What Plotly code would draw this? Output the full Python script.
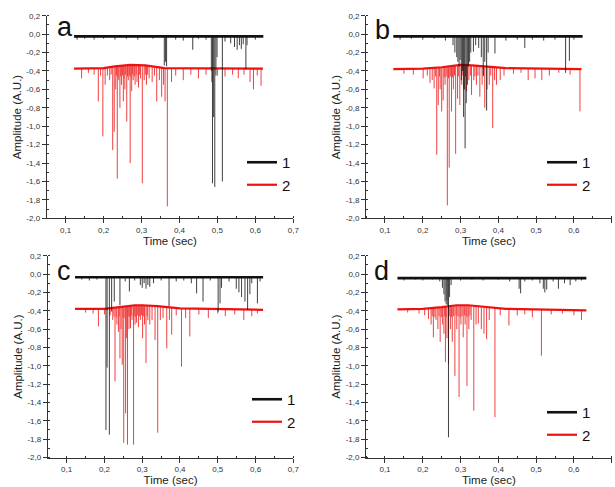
import numpy as np
import plotly.graph_objects as go

# ---------------- data ----------------
X_TICKS = [0.1, 0.2, 0.3, 0.4, 0.5, 0.6, 0.7]
X_TICK_LABELS = ["0,1", "0,2", "0,3", "0,4", "0,5", "0,6", "0,7"]
Y_TICKS = [0.2, 0.0, -0.2, -0.4, -0.6, -0.8, -1.0, -1.2, -1.4, -1.6, -1.8, -2.0]
Y_TICK_LABELS = ["0,2", "0,0", "-0,2", "-0,4", "-0,6", "-0,8", "-1,0",
                 "-1,2", "-1,4", "-1,6", "-1,8", "-2,0"]
PANEL_LETTERS = ["a", "b", "c", "d"]
SERIES_NAMES = ["1", "2"]

# ---- panel a ----
A1_BASE_T = [0.122, 0.621]
A1_BASE_Y = [-0.025, -0.025]
A1_SPIKE_T = [0.13, 0.15, 0.175, 0.20, 0.23, 0.26, 0.29, 0.33, 0.360, 0.363, 0.366,
              0.39, 0.41, 0.435, 0.45, 0.47, 0.484, 0.487, 0.490, 0.493, 0.496, 0.499,
              0.513, 0.52, 0.535, 0.545, 0.552, 0.558, 0.563, 0.568, 0.575, 0.578, 0.60]
A1_SPIKE_Y = [-0.06, -0.05, -0.06, -0.05, -0.06, -0.05, -0.06, -0.05, -0.34, -0.30, -0.35,
              -0.06, -0.07, -0.17, -0.05, -0.06, -0.40, -1.62, -0.90, -1.66, -0.45, -0.25,
              -1.60, -0.08, -0.10, -0.14, -0.17, -0.12, -0.16, -0.11, -0.38, -0.12, -0.06]
A2_BASE_T = [0.122, 0.20, 0.23, 0.27, 0.31, 0.36, 0.62]
A2_BASE_Y = [-0.375, -0.37, -0.35, -0.335, -0.34, -0.37, -0.375]
A2_SPIKE_T = [0.142, 0.16, 0.175, 0.186, 0.192, 0.198, 0.204, 0.21, 0.216, 0.220, 0.224,
              0.228, 0.232, 0.234, 0.236, 0.238, 0.240, 0.243, 0.245, 0.247, 0.250, 0.252,
              0.254, 0.256, 0.258, 0.261, 0.263, 0.265, 0.268, 0.270, 0.272, 0.274, 0.276,
              0.278, 0.281, 0.283, 0.286, 0.288, 0.292, 0.295, 0.297, 0.302, 0.307, 0.310,
              0.313, 0.316, 0.320, 0.328, 0.334, 0.340, 0.347, 0.353, 0.358, 0.362, 0.368,
              0.379, 0.39, 0.41, 0.43, 0.45, 0.47, 0.485, 0.50, 0.52, 0.54, 0.555, 0.57,
              0.586, 0.595, 0.605, 0.615]
A2_SPIKE_Y = [-0.48, -0.42, -0.44, -0.73, -0.45, -1.11, -0.55, -0.45, -0.50, -0.44, -1.26,
              -1.06, -0.60, -0.45, -1.57, -0.47, -0.50, -0.80, -0.46, -0.55, -0.45, -0.73,
              -0.48, -0.60, -0.44, -0.95, -0.46, -0.50, -0.45, -1.40, -0.47, -0.62, -0.44,
              -0.50, -0.46, -0.55, -0.44, -0.52, -0.58, -0.44, -0.48, -1.62, -0.50, -0.44,
              -0.55, -0.44, -0.48, -0.52, -0.45, -0.73, -0.50, -0.68, -0.55, -0.73, -1.87,
              -0.52, -0.45, -0.50, -0.44, -0.48, -0.44, -0.52, -0.45, -0.46, -0.44, -0.48,
              -0.44, -0.52, -0.60, -0.45, -0.56]

# ---- panel b ----
B1_BASE_T = [0.122, 0.623]
B1_BASE_Y = [-0.025, -0.025]
B1_SPIKE_T = [0.14, 0.17, 0.20, 0.23, 0.26, 0.28, 0.285, 0.29, 0.293, 0.296, 0.299, 0.302,
              0.305, 0.308, 0.310, 0.312, 0.315, 0.318, 0.321, 0.324, 0.327, 0.334, 0.34,
              0.348, 0.355, 0.36, 0.364, 0.369, 0.373, 0.391, 0.42, 0.45, 0.47, 0.49, 0.52,
              0.55, 0.578, 0.588, 0.60]
B1_SPIKE_Y = [-0.06, -0.05, -0.06, -0.05, -0.07, -0.12, -0.20, -0.25, -0.30, -0.35, -0.28,
              -0.50, -0.40, -0.90, -0.60, -1.24, -0.75, -0.55, -0.35, -0.30, -0.20, -0.19,
              -0.12, -0.15, -0.25, -0.45, -0.30, -0.83, -0.20, -0.21, -0.07, -0.06, -0.15,
              -0.06, -0.07, -0.06, -0.42, -0.29, -0.06]
B2_BASE_T = [0.122, 0.20, 0.25, 0.30, 0.33, 0.37, 0.42, 0.62]
B2_BASE_Y = [-0.38, -0.375, -0.36, -0.335, -0.34, -0.35, -0.37, -0.38]
B2_SPIKE_T = [0.15, 0.175, 0.201, 0.212, 0.219, 0.225, 0.230, 0.234, 0.237, 0.241, 0.244,
              0.246, 0.250, 0.254, 0.257, 0.259, 0.262, 0.265, 0.268, 0.270, 0.273, 0.276,
              0.279, 0.281, 0.284, 0.287, 0.292, 0.295, 0.298, 0.303, 0.306, 0.309, 0.313,
              0.316, 0.322, 0.326, 0.329, 0.335, 0.338, 0.342, 0.346, 0.351, 0.357, 0.361,
              0.364, 0.370, 0.376, 0.380, 0.385, 0.390, 0.395, 0.405, 0.415, 0.44, 0.46,
              0.479, 0.497, 0.515, 0.535, 0.56, 0.59, 0.616]
B2_SPIKE_Y = [-0.43, -0.44, -0.48, -0.45, -0.53, -0.50, -0.59, -0.46, -1.31, -0.77, -0.46,
              -0.60, -0.84, -0.72, -0.47, -0.55, -0.46, -1.86, -0.48, -1.45, -0.46, -0.84,
              -0.47, -0.60, -0.45, -1.30, -0.70, -0.46, -0.77, -0.55, -0.45, -0.60, -0.46,
              -0.62, -0.50, -0.45, -0.66, -0.50, -0.46, -0.55, -0.45, -0.68, -0.55, -0.46,
              -0.80, -0.60, -0.55, -0.45, -1.02, -0.50, -0.55, -0.50, -0.45, -0.43, -0.42,
              -0.50, -0.48, -0.50, -0.45, -0.42, -0.44, -0.84]

# ---- panel c ----
C1_BASE_T = [0.122, 0.62]
C1_BASE_Y = [-0.035, -0.035]
C1_SPIKE_T = [0.14, 0.16, 0.18, 0.204, 0.207, 0.213, 0.219, 0.226, 0.241, 0.255, 0.266,
              0.28, 0.295, 0.30, 0.305, 0.31, 0.315, 0.32, 0.33, 0.35, 0.371, 0.39, 0.41,
              0.43, 0.444, 0.461, 0.48, 0.501, 0.506, 0.51, 0.53, 0.549, 0.556, 0.563,
              0.572, 0.579, 0.585, 0.59, 0.605, 0.612]
C1_SPIKE_Y = [-0.06, -0.07, -0.06, -1.70, -1.02, -1.75, -0.41, -0.30, -0.34, -0.08, -0.19,
              -0.07, -0.12, -0.15, -0.10, -0.16, -0.12, -0.14, -0.10, -0.07, -0.35, -0.08,
              -0.07, -0.10, -0.21, -0.30, -0.07, -0.41, -0.32, -0.15, -0.08, -0.16, -0.20,
              -0.25, -0.30, -0.39, -0.22, -0.10, -0.32, -0.08]
C2_BASE_T = [0.122, 0.20, 0.24, 0.28, 0.30, 0.34, 0.40, 0.62]
C2_BASE_Y = [-0.38, -0.38, -0.36, -0.34, -0.34, -0.35, -0.375, -0.39]
C2_SPIKE_T = [0.15, 0.17, 0.184, 0.20, 0.215, 0.222, 0.225, 0.228, 0.231, 0.233, 0.237,
              0.239, 0.241, 0.244, 0.247, 0.249, 0.251, 0.254, 0.256, 0.258, 0.261, 0.263,
              0.265, 0.267, 0.269, 0.271, 0.273, 0.277, 0.279, 0.281, 0.283, 0.285, 0.288,
              0.290, 0.293, 0.295, 0.298, 0.301, 0.303, 0.306, 0.310, 0.313, 0.315, 0.320,
              0.326, 0.334, 0.341, 0.348, 0.355, 0.365, 0.372, 0.378, 0.39, 0.404, 0.415,
              0.426, 0.45, 0.475, 0.50, 0.52, 0.545, 0.569, 0.59, 0.605]
C2_SPIKE_Y = [-0.42, -0.43, -0.57, -0.44, -0.45, -0.50, -0.46, -1.17, -0.47, -0.55, -0.63,
              -0.46, -0.92, -0.60, -0.99, -0.47, -1.84, -0.48, -1.52, -0.70, -1.86, -0.46,
              -0.60, -0.47, -0.59, -0.45, -0.50, -1.86, -0.46, -0.55, -0.47, -0.53, -0.45,
              -0.58, -0.46, -0.50, -0.45, -0.70, -0.46, -0.55, -0.97, -0.46, -0.50, -0.55,
              -0.50, -0.72, -1.73, -0.50, -0.48, -0.81, -0.50, -0.66, -0.45, -1.01, -0.48,
              -0.68, -0.44, -0.48, -0.43, -0.46, -0.44, -0.50, -0.46, -0.43]

# ---- panel d ----
D1_BASE_T = [0.133, 0.633]
D1_BASE_Y = [-0.045, -0.045]
D1_SPIKE_T = [0.15, 0.18, 0.20, 0.225, 0.245, 0.252, 0.256, 0.259, 0.262, 0.264, 0.266,
              0.268, 0.271, 0.275, 0.30, 0.33, 0.36, 0.40, 0.43, 0.455, 0.459, 0.47, 0.49,
              0.51, 0.519, 0.523, 0.528, 0.545, 0.559, 0.575, 0.59, 0.605, 0.62]
D1_SPIKE_Y = [-0.07, -0.06, -0.07, -0.06, -0.08, -0.15, -0.22, -0.30, -0.33, -0.28, -0.34,
              -1.78, -0.25, -0.12, -0.07, -0.06, -0.07, -0.06, -0.08, -0.16, -0.21, -0.08,
              -0.07, -0.10, -0.16, -0.20, -0.17, -0.08, -0.16, -0.10, -0.12, -0.08, -0.07]
D2_BASE_T = [0.133, 0.20, 0.25, 0.29, 0.32, 0.36, 0.42, 0.633]
D2_BASE_Y = [-0.385, -0.38, -0.36, -0.34, -0.34, -0.355, -0.38, -0.395]
D2_SPIKE_T = [0.16, 0.19, 0.205, 0.215, 0.222, 0.225, 0.228, 0.232, 0.235, 0.240, 0.243,
              0.246, 0.249, 0.252, 0.256, 0.258, 0.260, 0.262, 0.264, 0.268, 0.270, 0.273,
              0.276, 0.278, 0.281, 0.285, 0.288, 0.290, 0.293, 0.296, 0.299, 0.301, 0.304,
              0.307, 0.310, 0.312, 0.315, 0.317, 0.320, 0.322, 0.325, 0.328, 0.335, 0.341,
              0.347, 0.355, 0.362, 0.369, 0.376, 0.391, 0.405, 0.428, 0.45, 0.47, 0.49,
              0.514, 0.54, 0.57, 0.60, 0.62]
D2_SPIKE_Y = [-0.42, -0.43, -0.45, -0.49, -0.55, -0.46, -0.69, -0.47, -0.50, -0.60, -0.46,
              -0.74, -0.47, -0.55, -0.65, -0.46, -0.96, -0.47, -0.70, -0.98, -0.46, -0.60,
              -0.47, -0.74, -0.46, -1.11, -0.45, -0.60, -0.46, -1.34, -0.47, -0.55, -0.46,
              -0.69, -0.45, -0.55, -0.46, -1.22, -0.47, -0.60, -0.45, -0.50, -1.49, -0.55,
              -0.54, -0.60, -0.65, -0.71, -0.50, -1.56, -0.45, -0.56, -0.45, -0.44, -0.47,
              -0.89, -0.44, -0.43, -0.45, -0.50]

PANELS = [
    (A1_BASE_T, A1_BASE_Y, A1_SPIKE_T, A1_SPIKE_Y, A2_BASE_T, A2_BASE_Y, A2_SPIKE_T, A2_SPIKE_Y),
    (B1_BASE_T, B1_BASE_Y, B1_SPIKE_T, B1_SPIKE_Y, B2_BASE_T, B2_BASE_Y, B2_SPIKE_T, B2_SPIKE_Y),
    (C1_BASE_T, C1_BASE_Y, C1_SPIKE_T, C1_SPIKE_Y, C2_BASE_T, C2_BASE_Y, C2_SPIKE_T, C2_SPIKE_Y),
    (D1_BASE_T, D1_BASE_Y, D1_SPIKE_T, D1_SPIKE_Y, D2_BASE_T, D2_BASE_Y, D2_SPIKE_T, D2_SPIKE_Y),
]

# ---------------- style / layout ----------------
W, H = 615, 487
FONT = "Arial, 'Liberation Sans', sans-serif"
BLACK = "#111111"
RED = "#ee1111"
COLORS = [BLACK, RED]
BASE_WIDTHS = [2.6, 2.2]

X_DOMAINS = [[46.7 / W, 293.3 / W], [366.1 / W, 611.7 / W],
             [47.8 / W, 293.3 / W], [366.1 / W, 611.7 / W]]
Y_DOMAINS = [[1 - 218.3 / H, 1 - 15.7 / H], [1 - 218.3 / H, 1 - 15.7 / H],
             [1 - 457.5 / H, 1 - 255.7 / H], [1 - 457.5 / H, 1 - 255.7 / H]]
LETTER_POS = [(0.034, 0.942), (0.028, 0.931), (0.029, 0.922), (0.024, 0.922)]
LEGEND_POS = [(242 / W, 1 - 146 / H), (542 / W, 1 - 146 / H),
              (247 / W, 1 - 383 / H), (542 / W, 1 - 396 / H)]


def spike_xy(base_t, base_y, st, sy):
    xs, ys = [], []
    top = np.interp(st, base_t, base_y)
    for t, y0, y1 in zip(st, top, sy):
        xs += [t, t, None]
        ys += [y0, y1, None]
    return xs, ys


fig = go.Figure()
for i, p in enumerate(PANELS):
    sfx = "" if i == 0 else str(i + 1)
    xa, ya = "x" + sfx, "y" + sfx
    leg = "legend" + sfx
    # series 2 (red) first so series 1 (black) sits on top, as in the reference
    for s in (1, 0):
        bt, by, st, sy = p[4 * s: 4 * s + 4]
        sx, syy = spike_xy(bt, by, st, sy)
        fig.add_trace(go.Scatter(
            x=sx, y=syy, mode="lines", xaxis=xa, yaxis=ya,
            line=dict(color=COLORS[s], width=1), opacity=0.8,
            legendgroup=f"{i}-{s}", showlegend=False, legend=leg, hoverinfo="skip"))
        fig.add_trace(go.Scatter(
            x=bt, y=by, mode="lines", xaxis=xa, yaxis=ya, name=SERIES_NAMES[s],
            line=dict(color=COLORS[s], width=BASE_WIDTHS[s]),
            legendgroup=f"{i}-{s}", legend=leg, legendrank=s + 1))

    common = dict(showline=True, linecolor="#333333", linewidth=1, showgrid=False,
                  zeroline=False, ticks="outside", ticklen=4, tickwidth=1,
                  tickcolor="#333333", automargin=False,
                  tickfont=dict(family=FONT, size=8, color="#333333"))
    fig.layout["xaxis" + sfx] = dict(
        common, domain=X_DOMAINS[i], anchor=ya, range=[0.05, 0.7],
        tickvals=X_TICKS, ticktext=X_TICK_LABELS,
        minor=dict(dtick=0.05, tick0=0.05, ticks="inside", ticklen=2, tickcolor="#333333"),
        title=dict(text="Time (sec)", font=dict(family=FONT, size=11.5, color="#222222"),
                   standoff=2))
    fig.layout["yaxis" + sfx] = dict(
        common, domain=Y_DOMAINS[i], anchor=xa, range=[-2.0, 0.2],
        tickvals=Y_TICKS, ticktext=Y_TICK_LABELS,
        minor=dict(dtick=0.1, tick0=0.0, ticks="inside", ticklen=2, tickcolor="#333333"),
        title=dict(text="Amplitude (A.U.)", font=dict(family=FONT, size=11.5, color="#222222"),
                   standoff=2))
    fig.layout[leg] = dict(
        x=LEGEND_POS[i][0], y=LEGEND_POS[i][1], xanchor="left", yanchor="top",
        bgcolor="rgba(0,0,0,0)", borderwidth=0, tracegroupgap=0,
        font=dict(family=FONT, size=15, color="#111111"), itemwidth=30)
    fig.add_annotation(
        text=PANEL_LETTERS[i], xref=xa + " domain", yref=ya + " domain",
        x=LETTER_POS[i][0], y=LETTER_POS[i][1], xanchor="left", yanchor="middle",
        showarrow=False, font=dict(family=FONT, size=27, color="#111111"))

fig.update_layout(
    width=W, height=H, margin=dict(l=0, r=0, t=0, b=0),
    paper_bgcolor="white", plot_bgcolor="white",
    font=dict(family=FONT), showlegend=True)

# remove the browser's default 8px page margin so the figure fills the window
fig.write_html("out.html", config={"displayModeBar": False},
               post_script="document.body.style.margin='0';")
